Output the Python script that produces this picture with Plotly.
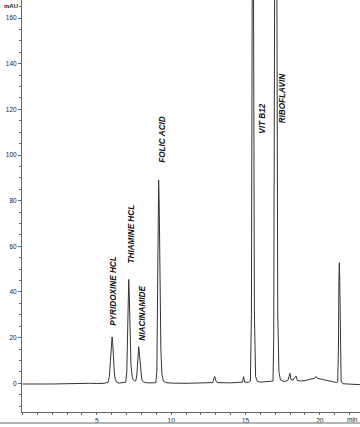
import plotly.graph_objects as go

# ---- data ----
time_min = [
    0.0, 0.5, 1.0, 1.5, 2.0, 2.5, 3.0, 3.5, 4.0, 4.2, 4.5, 5.0, 5.5, 5.75,
    5.85, 5.92, 5.97, 6.0, 6.03, 6.07, 6.12, 6.18, 6.25, 6.35, 6.5, 6.8,
    6.95, 7.02, 7.08, 7.12, 7.15, 7.19, 7.24, 7.3, 7.38, 7.45, 7.55,
    7.63, 7.7, 7.76, 7.82, 7.88, 7.95, 8.03, 8.15, 8.4, 8.8,
    8.97, 9.04, 9.08, 9.12, 9.16, 9.2, 9.25, 9.31, 9.38, 9.48, 9.65,
    10.0, 11.0, 12.0, 12.8, 12.87, 12.93, 13.0, 13.1, 14.0, 14.8, 14.87, 14.95, 15.2,
    15.33, 15.4, 15.45, 15.5, 15.55, 15.6, 15.68, 15.8, 16.0, 16.5, 16.85,
    16.9, 16.97, 17.03, 17.1, 17.17, 17.25, 17.35, 17.6, 17.85,
    17.93, 17.99, 18.06, 18.2, 18.32, 18.4, 18.48, 18.7, 19.0, 19.4, 19.65, 19.74, 19.83,
    20.1, 20.5, 20.9, 21.15,
    21.2, 21.25, 21.28, 21.31, 21.34, 21.38, 21.43, 21.55, 22.0, 22.7,
]
signal_mau = [
    -0.3, -0.4, -0.4, -0.3, -0.3, -0.2, -0.2, -0.1, 0.0, 0.2, 0.0, -0.1, 0.0, 0.4,
    3.0, 10.0, 17.0, 19.5, 20.3, 18.0, 11.0, 4.5, 1.5, 0.4, 0.1, 0.2,
    0.5, 5.0, 25.0, 41.0, 45.5, 38.0, 20.0, 8.0, 3.0, 1.5, 1.0,
    1.2, 4.0, 12.0, 16.0, 12.0, 5.0, 1.5, 0.5, 0.2, 0.2,
    0.3, 5.0, 35.0, 75.0, 89.0, 78.0, 45.0, 15.0, 4.0, 1.0, 0.3,
    0.1, 0.0, 0.2, 0.3, 2.0, 3.0, 1.2, 0.3, 0.2, 0.5, 2.9, 0.5, 0.4,
    1.0, 30.0, 150.0, 300.0, 150.0, 30.0, 3.0, 0.8, 0.5, 0.6, 1.0,
    20.0, 200.0, 350.0, 200.0, 30.0, 5.0, 1.5, 0.8, 1.2,
    3.0, 4.4, 1.6, 1.4, 2.6, 3.2, 1.3, 1.0, 1.2, 1.8, 2.2, 3.0, 2.2,
    1.8, 1.2, 0.5, 0.3,
    0.8, 15.0, 45.0, 52.8, 45.0, 15.0, 1.0, -0.2, -0.4, -0.6,
]
peak_labels = ["PYRIDOXINE HCL", "THIAMINE HCL", "NIACINAMIDE",
               "FOLIC ACID", "VIT B12", "RIBOFLAVIN"]
y_tick_values = [0, 20, 40, 60, 80, 100, 120, 140, 160]
x_tick_values = [5, 10, 15, 20]

# ---- figure ----
fig = go.Figure()
fig.add_trace(go.Scatter(
    x=time_min, y=signal_mau, mode="lines",
    line=dict(color="#333333", width=1),
    hoverinfo="skip", showlegend=False,
))

# label positions (data coords)
label_pos = [(6.16, 40.5), (7.35, 65.5), (8.09, 30.8),
             (9.37, 107.0), (16.13, 116.0), (17.55, 125.0)]
annotations = []
for text, (lx, ly) in zip(peak_labels, label_pos):
    annotations.append(dict(
        x=lx, y=ly, xref="x", yref="y", text=text, showarrow=False,
        textangle=-90, xanchor="center", yanchor="middle",
        font=dict(family="Liberation Sans, Arial", size=8.2, color="#111",
                  weight="bold", style="italic"),
    ))
annotations.append(dict(
    x=-0.034, y=0.985, xref="paper", yref="paper", text="<b>mAU</b>",
    showarrow=False, xanchor="center", yanchor="middle",
    font=dict(family="Liberation Sans, Arial", size=6, color="#222"),
))
annotations.append(dict(
    x=1.0, y=-0.018, xref="paper", yref="paper", text="min",
    showarrow=False, xanchor="right", yanchor="middle",
    font=dict(family="Liberation Sans, Arial", size=6.5, color="#222"),
))

fig.update_layout(
    width=360, height=427,
    margin=dict(l=22, r=0, t=0, b=15),
    paper_bgcolor="white", plot_bgcolor="white",
    annotations=annotations,
    shapes=[dict(type="line", xref="paper", yref="paper",
                 x0=-0.08, x1=1.0, y0=-0.027, y1=-0.027,
                 line=dict(color="#9a9a9a", width=1.5))],
    font=dict(family="Liberation Sans, Arial", size=6, color="#222"),
)
fig.update_xaxes(
    range=[-0.027, 22.7], showgrid=False, zeroline=False,
    showline=True, linecolor="#666", linewidth=1,
    tickvals=x_tick_values, ticks="outside", ticklen=2, tickcolor="#666",
    tickfont=dict(size=6.5, color="#222"),
    minor=dict(dtick=1, tick0=0, ticks="outside", ticklen=2, tickcolor="#666"),
)
fig.update_yaxes(
    range=[-12.57, 167.9], showgrid=False, zeroline=False,
    showline=True, linecolor="#666", linewidth=1,
    tickvals=y_tick_values, ticks="outside", ticklen=3, tickcolor="#666",
    tickfont=dict(size=6.5, color="#222"),
    minor=dict(dtick=5, tick0=0, ticks="outside", ticklen=2, tickcolor="#666"),
)

fig.write_html("out.html")
